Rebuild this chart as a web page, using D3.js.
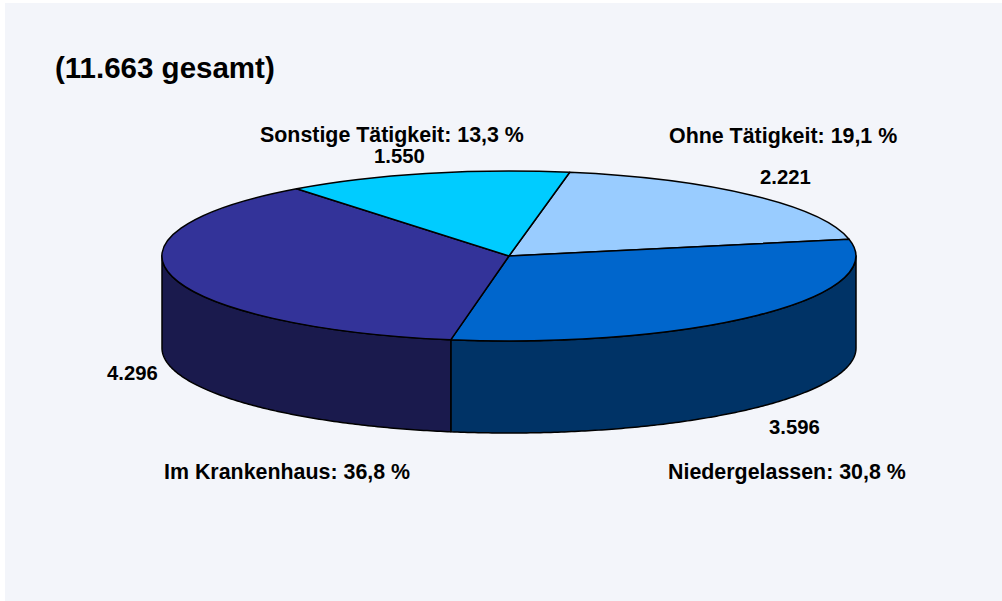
<!DOCTYPE html>
<html>
  <head>
    <meta charset="utf-8">
    <style>
      html, body { margin: 0; padding: 0; background: #fff; }
      svg { display: block; }
      text { font-family: "Liberation Sans", Arial, sans-serif; font-weight: bold; fill: #000; }
    </style>
    <script src="https://cdn.jsdelivr.net/npm/d3@7"></script>
  </head>
  <body>
    <svg id="container" width="1002" height="601"></svg>
    <script>
      const categories = ["Ohne Tätigkeit", "Niedergelassen", "Im Krankenhaus", "Sonstige Tätigkeit"];
      const counts = [2221, 3596, 4296, 1550];
      const countLabels = ["2.221", "3.596", "4.296", "1.550"];
      const percentLabels = ["19,1 %", "30,8 %", "36,8 %", "13,3 %"];
      const title = "(11.663 gesamt)";

      const topColors = ["#99ccff", "#0066cc", "#333399", "#00ccff"];
      const sideColors = ["#4d6680", "#003366", "#1a1a4d", "#006680"];

      // label anchors: [name x, name y, count x, count y], all start anchored
      const labelPos = [
        [669, 143, 760, 184],
        [668, 479, 769, 434],
        [164, 479, 107, 380],
        [260, 142, 374, 163]
      ];

      const cx = 509, cy = 256, rx = 347, ry = 85, depth = 92;
      const startAngle = 10.1 * Math.PI / 180;

      const svg = d3.select("#container");

      svg.append("rect")
        .attr("x", 5).attr("y", 3)
        .attr("width", 997).attr("height", 598)
        .attr("fill", "#f3f5fa");

      const pie = d3.pie().sort(null).startAngle(startAngle).endAngle(startAngle + 2 * Math.PI);
      const slices = pie(counts);

      const pieGroup = svg.append("g");

      // side wall, only the part of each slice facing the viewer
      const wall = d3.area()
        .x(a => cx + rx * Math.sin(a))
        .y0(a => cy - ry * Math.cos(a))
        .y1(a => cy - ry * Math.cos(a) + depth);

      slices.forEach((s, i) => {
        const from = Math.max(s.startAngle, Math.PI / 2);
        const to = Math.min(s.endAngle, 3 * Math.PI / 2);
        if (from >= to) return;
        const steps = d3.range(from, to, 0.01).concat([to]);
        pieGroup.append("path")
          .attr("d", wall(steps))
          .attr("fill", sideColors[i])
          .attr("stroke", "#000")
          .attr("stroke-width", 1.5)
          .attr("stroke-linejoin", "round");
      });

      // top of the pie: a unit arc squashed into the ellipse
      const arc = d3.arc().innerRadius(0).outerRadius(1);
      pieGroup.append("g")
        .attr("transform", `translate(${cx},${cy}) scale(${rx},${ry})`)
        .selectAll("path")
        .data(slices)
        .enter()
        .append("path")
        .attr("d", arc)
        .attr("fill", (d, i) => topColors[i])
        .attr("stroke", "#000")
        .attr("stroke-width", 1.5)
        .attr("stroke-linejoin", "round")
        .attr("vector-effect", "non-scaling-stroke");

      svg.append("text")
        .attr("x", 55).attr("y", 78)
        .attr("font-size", 29.5)
        .text(title);

      categories.forEach((name, i) => {
        const p = labelPos[i];
        svg.append("text")
          .attr("x", p[0]).attr("y", p[1])
          .attr("font-size", 21.4)
          .text(`${name}: ${percentLabels[i]}`);
        svg.append("text")
          .attr("x", p[2]).attr("y", p[3])
          .attr("font-size", 20.3)
          .text(countLabels[i]);
      });
    </script>
  </body>
</html>
